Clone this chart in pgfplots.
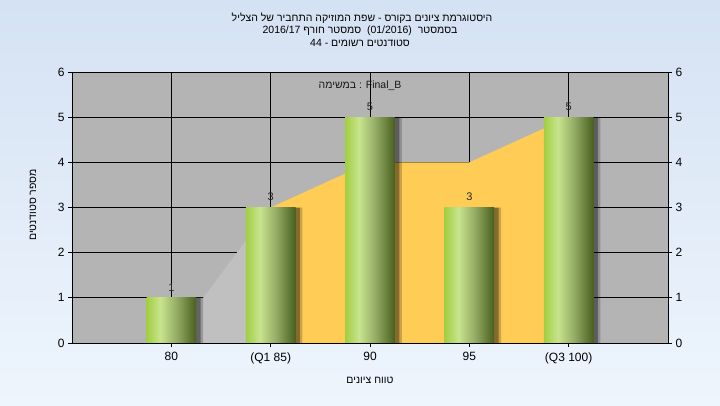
\documentclass[border=0pt]{standalone}
\usepackage{fontspec}
\setmainfont{Liberation Sans}
\newfontfamily\heb[Script=Hebrew]{Liberation Sans}
\usepackage{pgfplots}
\pgfplotsset{compat=1.18}
\TeXXeTstate=1
\definecolor{plotbg}{HTML}{B4B4B4}
\definecolor{lgarea}{HTML}{C0C0C0}
\definecolor{yarea}{HTML}{FFCC55}
\definecolor{bgtop}{HTML}{D5E2F3}
\definecolor{bgbot}{HTML}{EEF5FD}
\definecolor{g1}{HTML}{A2CE42}
\definecolor{g2}{HTML}{C8E48E}
\definecolor{g3}{HTML}{95AD66}
\definecolor{g4}{HTML}{485F1E}
\pgfdeclarehorizontalshading{barshade}{100bp}{color(0bp)=(g1); color(25bp)=(g1); color(39bp)=(g2); color(55bp)=(g3); color(75bp)=(g4); color(100bp)=(g4)}
\pgfplotstableread{
x y
0 1
1 3
2 5
3 3
4 5
}\bars
\pgfplotsset{
  greenbar/.style={ybar, bar width=0.5, bar shift=0, shading=barshade, draw=none,
    nodes near coords,
    nodes near coords style={font=\fontsize{11}{11}\selectfont, text=black!85, anchor=south, inner sep=1pt, yshift=5.5pt}},
}
\begin{document}
\begin{tikzpicture}[x=1pt,y=1pt]
\shade[top color=bgtop, bottom color=bgbot] (0,0) rectangle (720,405);
\begin{axis}[
  at={(72pt,62pt)}, anchor=south west,
  scale only axis, width=596pt, height=271pt,
  xmin=-1, xmax=5, ymin=0, ymax=6,
  axis background/.style={fill=plotbg},
  xtick={0,...,4}, xticklabels={80, (Q1 85), 90, 95, (Q3 100)},
  ytick={0,...,6},
  grid=major, grid style={black, line width=0.9pt},
  axis x line*=bottom, axis y line*=left,
  axis line style={-, black, line width=0.9pt},
  tick align=outside, major tick length=4pt,
  tick style={black, line width=0.9pt},
  tick label style={font=\fontsize{12}{12}\selectfont, text=black},
  /pgf/number format/assume math mode=true,
  xticklabel style={yshift=-2pt},
]
\addplot[fill=lgarea, draw=none] coordinates {(0.25,0) (0.25,1) (0.32,1) (1,3) (1,0)} \closedcycle;
\addplot[fill=yarea, draw=none] coordinates {(1,0) (1,3) (2,4) (3,4) (4,5) (4,0)} \closedcycle;
\addplot[ybar, bar width=0.5, bar shift=0.07, fill=black, fill opacity=0.2, draw=none] table[x=x,y=y] {\bars};
\addplot[ybar, bar width=0.5, bar shift=0.045, fill=black, fill opacity=0.35, draw=none] table[x=x,y=y] {\bars};
\addplot[greenbar] coordinates {(0,1)};
\addplot[greenbar] coordinates {(1,3)};
\addplot[greenbar] coordinates {(2,5)};
\addplot[greenbar] coordinates {(3,3)};
\addplot[greenbar] coordinates {(4,5)};
\node[font=\fontsize{10.5}{11}\selectfont, text=black!90] at (axis cs:1.9,5.69) {{\heb\beginR במשימה\endR} : Final\_B};
\end{axis}
\begin{axis}[
  at={(72pt,62pt)}, anchor=south west,
  scale only axis, width=596pt, height=271pt,
  xmin=-1, xmax=5, ymin=0, ymax=6,
  axis x line*=bottom, xtick=\empty,
  axis y line*=right,
  axis line style={-, black, line width=0.9pt},
  ytick={0,...,6},
  tick align=outside, major tick length=4pt,
  tick style={black, line width=0.9pt},
  tick label style={font=\fontsize{12}{12}\selectfont, text=black},
  /pgf/number format/assume math mode=true,
]
\addplot[draw=none] coordinates {(0,0)};
\end{axis}
\node[font=\fontsize{10.5}{11}\selectfont] at (362,387) {\heb\beginR היסטוגרמת ציונים בקורס - שפת המוזיקה התחביר של הצליל\endR};
\node[font=\fontsize{10.5}{11}\selectfont] at (360,374.5) {\heb\beginR בסמסטר\ \ \beginL(01/2016)\endL{}\ \ סמסטר חורף \beginL 2016/17\endL{}\endR};
\node[font=\fontsize{10.5}{11}\selectfont] at (360,362) {\heb\beginR סטודנטים רשומים - \beginL 44\endL{}\endR};
\node[font=\fontsize{10.5}{11}\selectfont] at (370,25) {\heb\beginR טווח ציונים\endR};
\node[font=\fontsize{10.5}{11}\selectfont, rotate=90] at (33,200) {\heb\beginR מספר סטודנטים\endR};
\end{tikzpicture}
\end{document}
